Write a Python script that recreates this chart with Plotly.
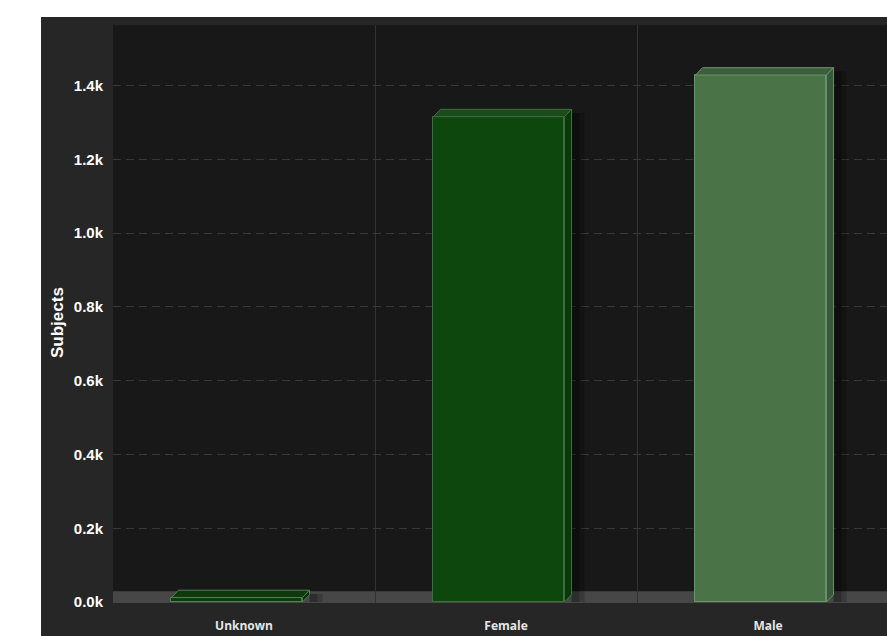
import plotly.graph_objects as go

# Subjects by sex
categories = ["Unknown", "Female", "Male"]
subjects = [12, 1316, 1429]
front_colors = ["#0b3d0b", "#0d470d", "#4a7448"]
top_colors = ["#0e390e", "#1b4a1b", "#3d5e3d"]
side_colors = ["#082e08", "#0a380a", "#39573a"]
edge_colors = ["#557f55", "#3f6f3f", "#6a946a"]
y_ticks = [0, 200, 400, 600, 800, 1000, 1200, 1400]
y_tick_labels = ["0.0k", "0.2k", "0.4k", "0.6k", "0.8k", "1.0k", "1.2k", "1.4k"]

positions = list(range(len(categories)))
bar_width = 0.5
depth_x = 0.027   # horizontal depth of the 3D extrusion (x units)
depth_y = 20      # vertical depth of the 3D extrusion (y units)
x_range = [-0.5, 2.454]
y_range = [-2.7, 1564.7]

fig = go.Figure()
fig.add_trace(go.Bar(
    x=positions,
    y=subjects,
    width=bar_width,
    offset=-bar_width / 2 - depth_x,
    marker=dict(color=front_colors, line=dict(color=edge_colors, width=1)),
    hoverinfo="x+y",
    showlegend=False,
))

shapes = [
    # dark chart frame
    dict(type="rect", xref="paper", yref="paper", x0=-0.093, x1=1.05, y0=-0.2, y1=1.0138,
         fillcolor="#262626", line=dict(width=0), layer="below"),
    # plot area background
    dict(type="rect", xref="paper", yref="paper", x0=0, x1=1.05, y0=0, y1=1,
         fillcolor="#181818", line=dict(width=0), layer="below"),
    # floor slab
    dict(type="rect", xref="paper", yref="y", x0=0, x1=1.05, y0=y_range[0], y1=29,
         fillcolor="#474747", line=dict(width=0), layer="between"),
]

for pos, val, top_c, side_c, edge_c in zip(positions, subjects, top_colors, side_colors, edge_colors):
    x0 = pos - bar_width / 2 - depth_x
    x1 = x0 + bar_width
    # soft shadow to the right of each block
    for k, alpha in ((0.05, 0.18), (0.03, 0.22)):
        shapes.append(dict(type="rect", xref="x", yref="y",
                           x0=x1 + depth_x, x1=x1 + depth_x + k, y0=0, y1=val + depth_y * 0.5,
                           fillcolor=f"rgba(0,0,0,{alpha})", line=dict(width=0), layer="between"))
    # top face
    shapes.append(dict(type="path", xref="x", yref="y",
                       path=f"M {x0},{val} L {x1},{val} L {x1 + depth_x},{val + depth_y} "
                            f"L {x0 + depth_x},{val + depth_y} Z",
                       fillcolor=top_c, line=dict(color=edge_c, width=1), layer="above"))
    # side face
    shapes.append(dict(type="path", xref="x", yref="y",
                       path=f"M {x1},{0} L {x1 + depth_x},{depth_y} L {x1 + depth_x},{val + depth_y} "
                            f"L {x1},{val} Z",
                       fillcolor=side_c, line=dict(color=edge_c, width=1), layer="above"))

fig.update_layout(
    width=887,
    height=636,
    margin=dict(l=113, r=0, t=25, b=33),
    paper_bgcolor="#ffffff",
    plot_bgcolor="rgba(0,0,0,0)",
    shapes=shapes,
    bargap=0,
    xaxis=dict(
        range=x_range,
        tickvals=positions,
        ticktext=categories,
        showgrid=False,
        zeroline=False,
        showline=False,
        ticks="",
        ticklabelstandoff=14,
        tickfont=dict(family="Open Sans, Arial, sans-serif", size=12, color="#e6e6e6", weight="bold"),
        minor=dict(tickvals=[p + 0.5 for p in positions[:-1]], showgrid=True,
                   gridcolor="#333333", gridwidth=1, ticks=""),
        fixedrange=True,
    ),
    yaxis=dict(
        range=y_range,
        tickvals=y_ticks,
        ticktext=y_tick_labels,
        showgrid=True,
        gridcolor="#383838",
        gridwidth=1,
        griddash="8px,5px",
        zeroline=False,
        showline=False,
        ticks="",
        ticklabelstandoff=9,
        tickfont=dict(family="Arial, Liberation Sans, sans-serif", size=15, color="#ffffff", weight="bold"),
        fixedrange=True,
    ),
    annotations=[dict(
        text="Subjects", xref="paper", yref="paper",
        x=(57 - 113) / 774, y=(603 - 323) / 578,
        xanchor="center", yanchor="middle",
        textangle=-90, showarrow=False,
        font=dict(family="Arial, Liberation Sans, sans-serif", size=17, color="#ffffff", weight="bold"),
    )],
)

fig.write_html("out.html")
